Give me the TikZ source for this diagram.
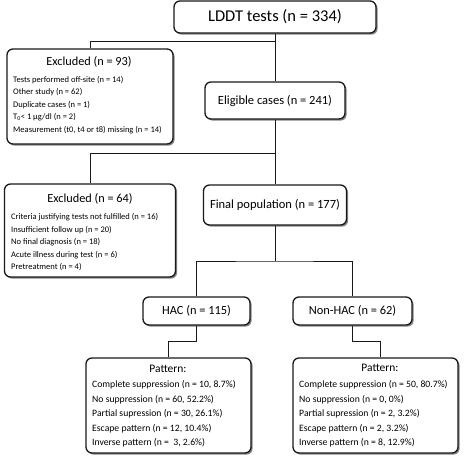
\documentclass[tikz,border=0pt]{standalone}
\usepackage{fontspec}
\setmainfont{Carlito}
\usetikzlibrary{shadows}
\tikzset{
  box/.style={draw=black!90, line width=1.3pt, rounded corners=6pt, fill=white, inner sep=0pt,
    drop shadow={shadow xshift=1.6pt, shadow yshift=-1.6pt, fill=black!80, opacity=0.6}},
  conn/.style={draw=black!90, line width=1pt},
  head/.style={inner sep=0pt, font=\fontsize{12.3}{14}\selectfont},
  lst/.style={inner sep=0pt, anchor=west, align=left, font=\fontsize{8.5}{12.5}\selectfont},
  plst/.style={inner sep=0pt, anchor=west, align=left, font=\fontsize{9.7}{14.5}\selectfont},
}
\begin{document}
\begin{tikzpicture}[x=1pt,y=-1pt]
\useasboundingbox (0,0) rectangle (474,459);
% boxes
\node[box, minimum width=202pt, minimum height=32pt, font=\fontsize{16.5}{18}\selectfont] (lddt) at (275,17) {LDDT tests (n = 334)};
\node[box, minimum width=166pt, minimum height=95pt] (ex93) at (90,96.5) {};
\node[box, minimum width=140pt, minimum height=37pt, font=\fontsize{12.5}{14}\selectfont] (elig) at (275,100.5) {Eligible cases (n = 241)};
\node[box, minimum width=171pt, minimum height=93pt] (ex64) at (90,230.5) {};
\node[box, minimum width=143pt, minimum height=40pt, font=\fontsize{12.5}{14}\selectfont] (final) at (275,205) {Final population (n = 177)};
\node[box, minimum width=107pt, minimum height=28pt, font=\fontsize{12.4}{14}\selectfont] (hac) at (196.5,311) {HAC (n = 115)};
\node[box, minimum width=119pt, minimum height=28pt, font=\fontsize{12.4}{14}\selectfont] (nonhac) at (352.5,311) {Non-HAC (n = 62)};
\node[box, minimum width=165pt, minimum height=95pt] (pat1) at (168.5,405.5) {};
\node[box, minimum width=165pt, minimum height=95pt] (pat2) at (375.5,405.5) {};
% texts
\node[head] (h93) at (89,62) {Excluded (n = 93)};
\node[lst] (l93) at (13,105) {Tests performed off-site (n = 14)\\Other study (n = 62)\\Duplicate cases (n = 1)\\T\textsubscript{0}< 1 µg/dl (n = 2)\\Measurement (t0, t4 or t8) missing (n = 14)};
\node[head] (h64) at (90,199) {Excluded (n = 64)};
\node[lst] (l64) at (11,242) {Criteria justifying tests not fulfilled (n = 16)\\Insufficient follow up (n = 20)\\No final diagnosis (n = 18)\\Acute illness during test (n = 6)\\Pretreatment (n = 4)};
\node[head, font=\fontsize{11.5}{13}\selectfont] (hp1) at (168,369) {Pattern:};
\node[plst] (lp1) at (92,414) {Complete suppression (n = 10, 8.7\%)\\No suppression (n = 60, 52.2\%)\\Partial supression (n = 30, 26.1\%)\\Escape pattern (n = 12, 10.4\%)\\Inverse pattern (n = ~3, 2.6\%)};
\node[head, font=\fontsize{11.5}{13}\selectfont] (hp2) at (380,368) {Pattern:};
\node[plst] (lp2) at (299,414) {Complete suppression (n = 50, 80.7\%)\\No suppression (n = 0, 0\%)\\Partial supression (n = 2, 3.2\%)\\Escape pattern (n = 2, 3.2\%)\\Inverse pattern (n = 8, 12.9\%)};
% connectors
\coordinate (b1) at (275,41);
\coordinate (b2) at (275,153);
\coordinate (b3) at (275,261);
\draw[conn] (lddt.south) -- (elig.north);
\draw[conn] (b1) -| (ex93.north);
\draw[conn] (elig.south) -- (final.north);
\draw[conn] (b2) -| (ex64.north);
\draw[conn] (final.south) -- (b3);
\draw[conn] (hac.north) |- (b3) -| (nonhac.north);
\draw[conn] (hac.south) -- ++(0,16) -| (pat1.north);
\draw[conn] (nonhac.south) -- ++(0,16) -| ([xshift=4.5pt]pat2.north);
\end{tikzpicture}
\end{document}
